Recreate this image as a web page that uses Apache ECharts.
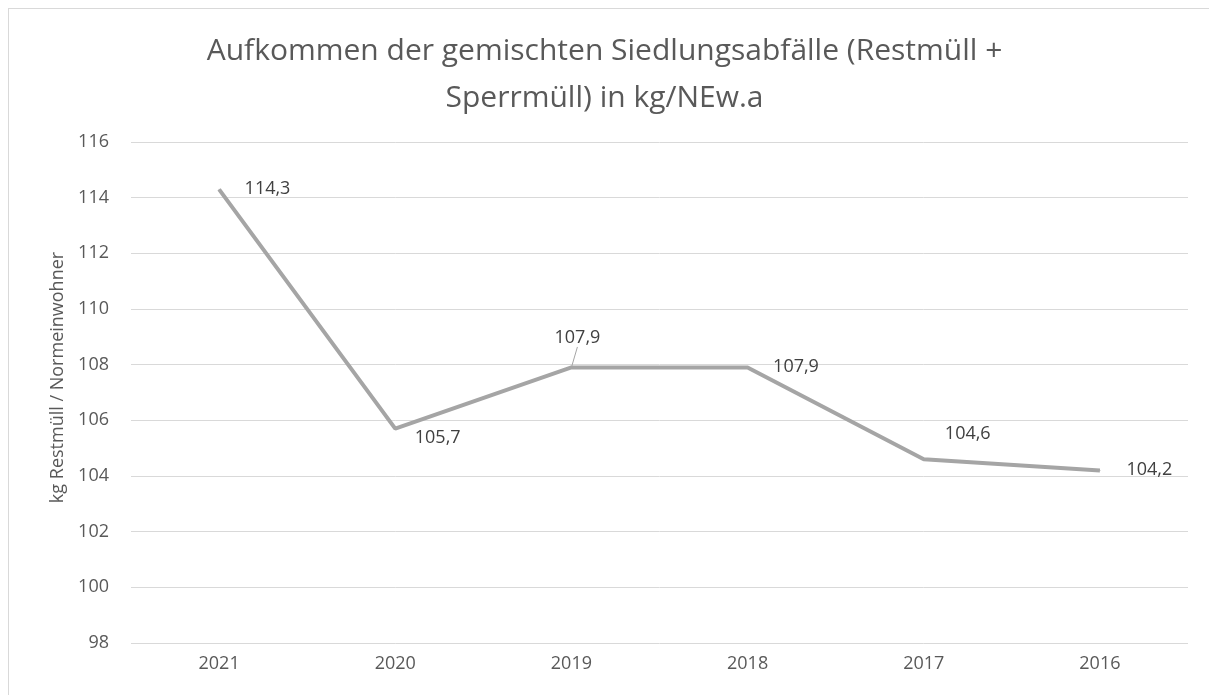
<!DOCTYPE html>
<html>
<head>
<meta charset="utf-8">
<script src="https://cdn.jsdelivr.net/npm/echarts@6/dist/echarts.min.js"></script>
<style>
  html, body { margin: 0; padding: 0; background: #fff; }
  #frame {
    position: absolute; left: 8px; top: 8px; width: 1220px; height: 720px;
    border: 1px solid #d9d9d9; box-sizing: border-box;
  }
  #chart { position: absolute; left: 0; top: 0; width: 1209px; height: 695px; }
</style>
</head>
<body>
<div id="frame"></div>
<div id="chart"></div>
<script>
// Daten
const years = ['2021', '2020', '2019', '2018', '2017', '2016']
const values = [114.3, 105.7, 107.9, 107.9, 104.6, 104.2]
const yMin = 98
const yMax = 116
const yStep = 2

const textColor = '#595959'
const fontFamily = '"Open Sans", "Liberation Sans", sans-serif'

// Label-Positionen je Punkt
const labelPos = ['right', 'right', 'top', 'right', 'top', 'right']
const labelMoves = [
  { dx: 20, dy: 0 },
  { dx: 14, dy: 9 },
  { dx: 6, dy: -15 },
  { dx: 20, dy: -1 },
  { dx: 44, dy: -11 },
  { dx: 21, dy: -1 }
]
// nur das Label bei 2019 hat eine Führungslinie
const withLeader = [false, false, true, false, false, false]

const chart = echarts.init(document.getElementById('chart'))

const option = {
  backgroundColor: 'transparent',
  textStyle: { fontFamily: fontFamily },
  title: {
    text: 'Aufkommen der gemischten Siedlungsabfälle (Restmüll +\nSperrmüll) in kg/NEw.a',
    left: 'center',
    top: 23,
    textStyle: {
      fontFamily: fontFamily,
      fontSize: 30,
      fontWeight: 'normal',
      color: textColor,
      lineHeight: 47
    }
  },
  grid: {
    left: 131,
    right: 21,
    top: 142,
    bottom: 52
  },
  xAxis: {
    type: 'category',
    data: years,
    boundaryGap: true,
    axisLine: { show: false },
    axisTick: { show: false },
    axisLabel: { color: textColor, fontSize: 18, margin: 12 }
  },
  yAxis: {
    type: 'value',
    min: yMin,
    max: yMax,
    interval: yStep,
    name: 'kg Restmüll / Normeinwohner',
    nameLocation: 'middle',
    nameRotate: 90,
    nameGap: 64,
    nameTextStyle: { color: textColor, fontSize: 18, padding: [0, 0, 0, 30] },
    axisLine: { show: false },
    axisTick: { show: false },
    axisLabel: { color: textColor, fontSize: 18, margin: 22 },
    splitLine: { lineStyle: { color: '#d9d9d9', width: 1 } }
  },
  series: [
    {
      type: 'line',
      data: values.map((v, i) => ({
        value: v,
        label: { position: labelPos[i] },
        labelLine: { show: withLeader[i] }
      })),
      symbol: 'circle',
      symbolSize: 1,
      showSymbol: true,
      lineStyle: { color: '#a5a5a5', width: 4 },
      itemStyle: { color: '#a5a5a5' },
      label: {
        show: true,
        color: '#404040',
        fontSize: 18,
        formatter: p => String(p.value).replace('.', ',')
      },
      labelLine: {
        show: false,
        lineStyle: { color: '#a5a5a5', width: 1 }
      },
      labelLayout: function (params) {
        const m = labelMoves[params.dataIndex]
        return { dx: m.dx, dy: m.dy }
      }
    }
  ]
}

chart.setOption(option)
</script>
</body>
</html>
